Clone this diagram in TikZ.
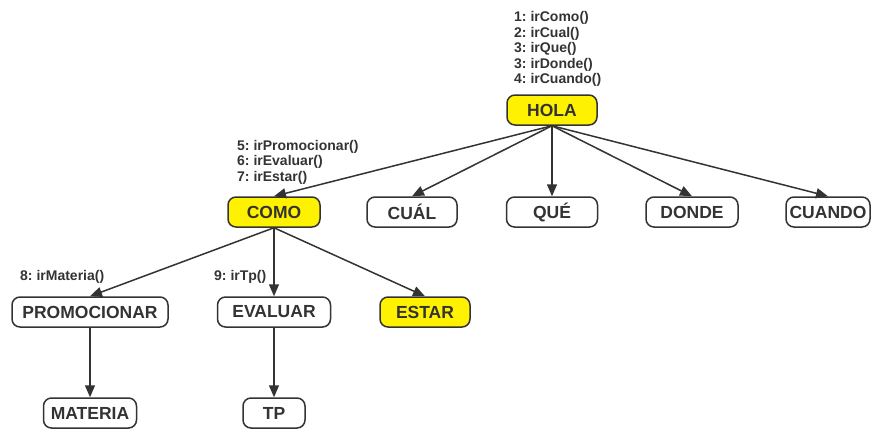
\documentclass[tikz,border=0pt]{standalone}
\usepackage{fontspec}
\setmainfont{Liberation Sans}
\frenchspacing
\usetikzlibrary{arrows.meta}
\definecolor{ink}{HTML}{333333}
\definecolor{hl}{HTML}{FFF200}
\tikzset{
  box/.style={draw=ink, line width=1.5pt, rounded corners=8pt, fill=white,
    minimum height=30pt, inner sep=0pt, text=ink,
    font=\fontsize{17.5}{18}\selectfont\bfseries},
  hot/.style={box, fill=hl},
  lbl/.style={anchor=west, align=left, text=ink, inner sep=0pt,
    font=\fontsize{14}{15.5}\selectfont\bfseries},
  arr/.style={draw=ink, line width=1.5pt, -{Triangle[length=12pt,width=10pt]}}
}
\begin{document}
\begin{tikzpicture}[x=1pt,y=-1pt]
\useasboundingbox (0,0) rectangle (872,432);
\node[hot, minimum width=90pt] (hola) at (552,110) {HOLA};
\node[hot, minimum width=92pt] (como) at (274,212) {COMO};
\node[box, minimum width=90pt] (cual) at (412,212) {CUÁL};
\node[box, minimum width=91pt] (que) at (552,212) {QUÉ};
\node[box, minimum width=92pt] (donde) at (692,212) {DONDE};
\node[box, minimum width=84pt] (cuando) at (828,212) {CUANDO};
\node[box, minimum width=156pt] (prom) at (90,312) {PROMOCIONAR};
\node[box, minimum width=113pt] (eval) at (274,312) {EVALUAR};
\node[hot, minimum width=90pt] (estar) at (425,312) {ESTAR};
\node[box, minimum width=93pt] (mat) at (90,413) {MATERIA};
\node[box, minimum width=62pt] (tp) at (274,413) {TP};

\node[lbl] (l1) at (514,49) {1: irComo()\\2: irCual()\\3: irQue()\\3: irDonde()\\4: irCuando()};
\node[lbl] (l2) at (237,162) {5: irPromocionar()\\6: irEvaluar()\\7: irEstar()};
\node[lbl] (l3) at (20,277) {8: irMateria()};
\node[lbl] (l4) at (214,277) {9: irTp()};

\draw[arr] (hola.south) -- (como.north);
\draw[arr] (hola.south) -- (cual.north);
\draw[arr] (hola.south) -- (que.north);
\draw[arr] (hola.south) -- (donde.north);
\draw[arr] (hola.south) -- (cuando.north);
\draw[arr] (como.south) -- (prom.north);
\draw[arr] (como.south) -- (eval.north);
\draw[arr] (como.south) -- (estar.north);
\draw[arr] (prom.south) -- (mat.north);
\draw[arr] (eval.south) -- (tp.north);
\end{tikzpicture}
\end{document}
